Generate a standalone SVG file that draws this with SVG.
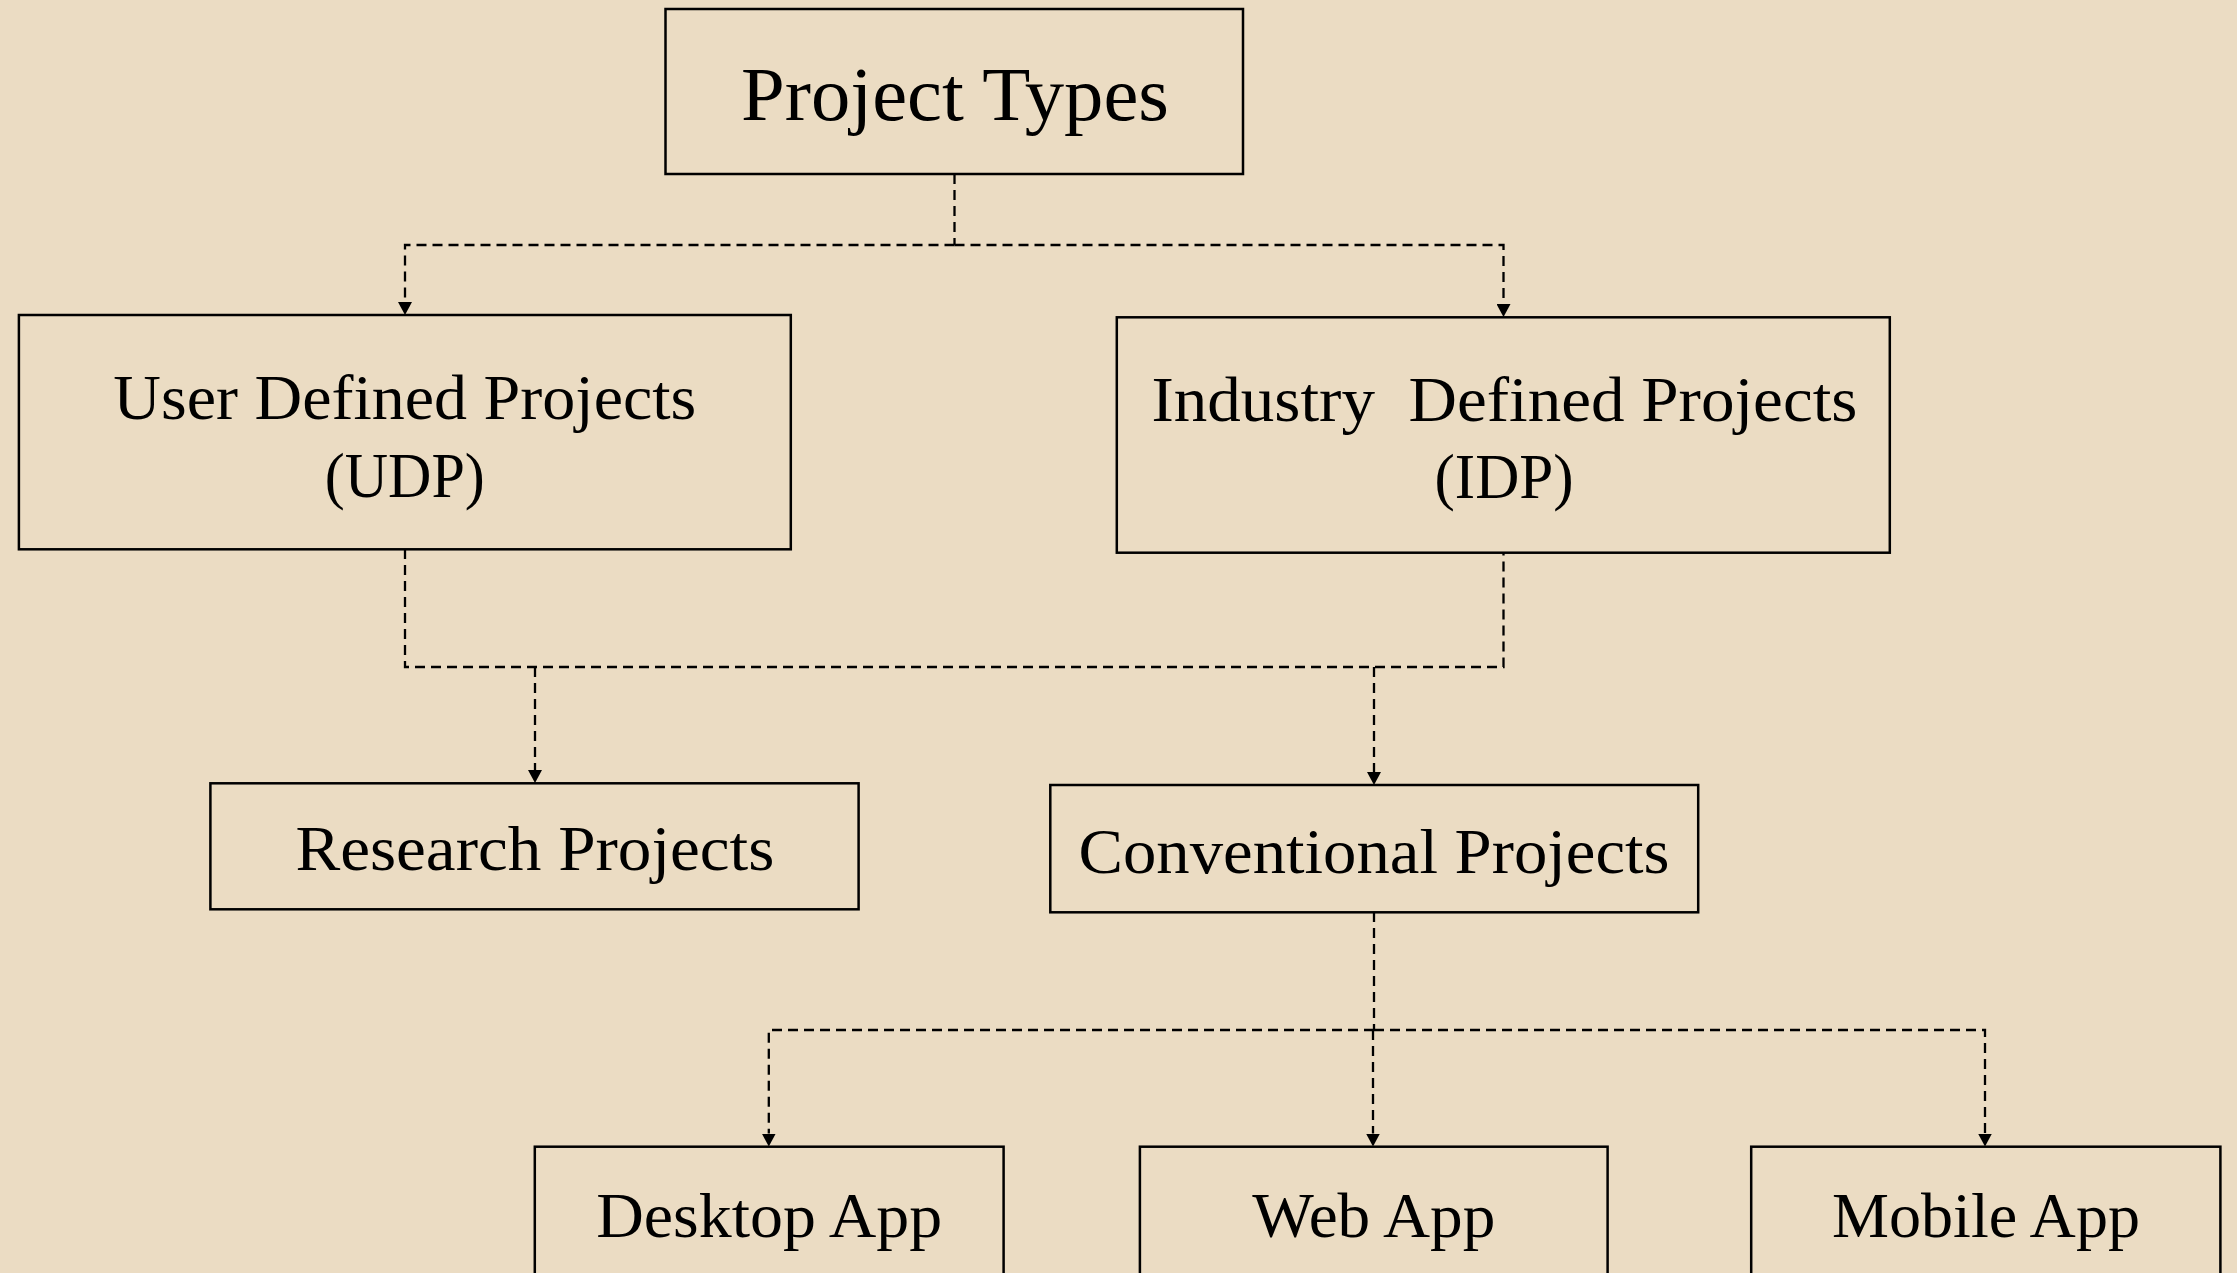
<svg xmlns="http://www.w3.org/2000/svg" width="2237" height="1273" viewBox="0 0 2237 1273">
<style>
.box{fill:none;stroke:#000;stroke-width:2.5}
.lbl{font-family:"Liberation Serif","Times New Roman",serif;font-size:64px;fill:#000;text-anchor:middle}
.big{font-size:76px}
.con{fill:none;stroke:#000;stroke-width:2.3;stroke-dasharray:10 6}
</style>
<defs>
<marker id="arr" markerUnits="userSpaceOnUse" markerWidth="14" markerHeight="14" refX="0" refY="7" orient="auto">
<path d="M0,0 L13,7 L0,14 z" fill="#000"/>
</marker>
</defs>
<rect x="0" y="0" width="2237" height="1273" fill="#EBDCC3"/>
<g id="connectors">
<path class="con" d="M954.5,174 V245"/>
<path class="con" d="M954.5,245 H405 V302" marker-end="url(#arr)"/>
<path class="con" d="M954.5,245 H1503.5 V304" marker-end="url(#arr)"/>
<path class="con" d="M405,549 V667 H1503.5 V552.5"/>
<path class="con" d="M535,667 V770" marker-end="url(#arr)"/>
<path class="con" d="M1374,667 V772" marker-end="url(#arr)"/>
<path class="con" d="M1374,912 V1030"/>
<path class="con" d="M1374,1030 H768.8 V1133.5" marker-end="url(#arr)"/>
<path class="con" d="M1374,1030 H1985 V1133.5" marker-end="url(#arr)"/>
<path class="con" d="M1373,1030 V1133.5" marker-end="url(#arr)"/>
</g>
<g id="project-types">
<rect class="box" x="665.5" y="9" width="577.5" height="165"/>
<text class="lbl big" x="955" y="120" textLength="428" lengthAdjust="spacingAndGlyphs">Project Types</text>
</g>
<g id="udp">
<rect class="box" x="18.9" y="315" width="771.9" height="234.3"/>
<text class="lbl" x="404.8" y="419" textLength="583" lengthAdjust="spacingAndGlyphs">User Defined Projects</text>
<text class="lbl" x="404.8" y="497" textLength="160" lengthAdjust="spacingAndGlyphs">(UDP)</text>
</g>
<g id="idp">
<rect class="box" x="1116.8" y="317.3" width="773" height="235.4"/>
<text class="lbl" x="1504.4" y="421" textLength="706" lengthAdjust="spacingAndGlyphs" xml:space="preserve">Industry  Defined Projects</text>
<text class="lbl" x="1504" y="498" textLength="139" lengthAdjust="spacingAndGlyphs">(IDP)</text>
</g>
<g id="research">
<rect class="box" x="210.4" y="783.3" width="648.2" height="126"/>
<text class="lbl" x="534.9" y="870" textLength="479" lengthAdjust="spacingAndGlyphs">Research Projects</text>
</g>
<g id="conventional">
<rect class="box" x="1050.3" y="785" width="647.9" height="127.3"/>
<text class="lbl" x="1374" y="872.7" textLength="591" lengthAdjust="spacingAndGlyphs">Conventional Projects</text>
</g>
<g id="desktop">
<rect class="box" x="534.8" y="1146.7" width="468.8" height="150"/>
<text class="lbl" x="769.2" y="1237" textLength="346" lengthAdjust="spacingAndGlyphs">Desktop App</text>
</g>
<g id="web">
<rect class="box" x="1139.9" y="1146.7" width="467.7" height="150"/>
<text class="lbl" x="1373.8" y="1237" textLength="243" lengthAdjust="spacingAndGlyphs">Web App</text>
</g>
<g id="mobile">
<rect class="box" x="1751.2" y="1146.7" width="469.2" height="150"/>
<text class="lbl" x="1986" y="1237" textLength="308" lengthAdjust="spacingAndGlyphs">Mobile App</text>
</g>
</svg>
